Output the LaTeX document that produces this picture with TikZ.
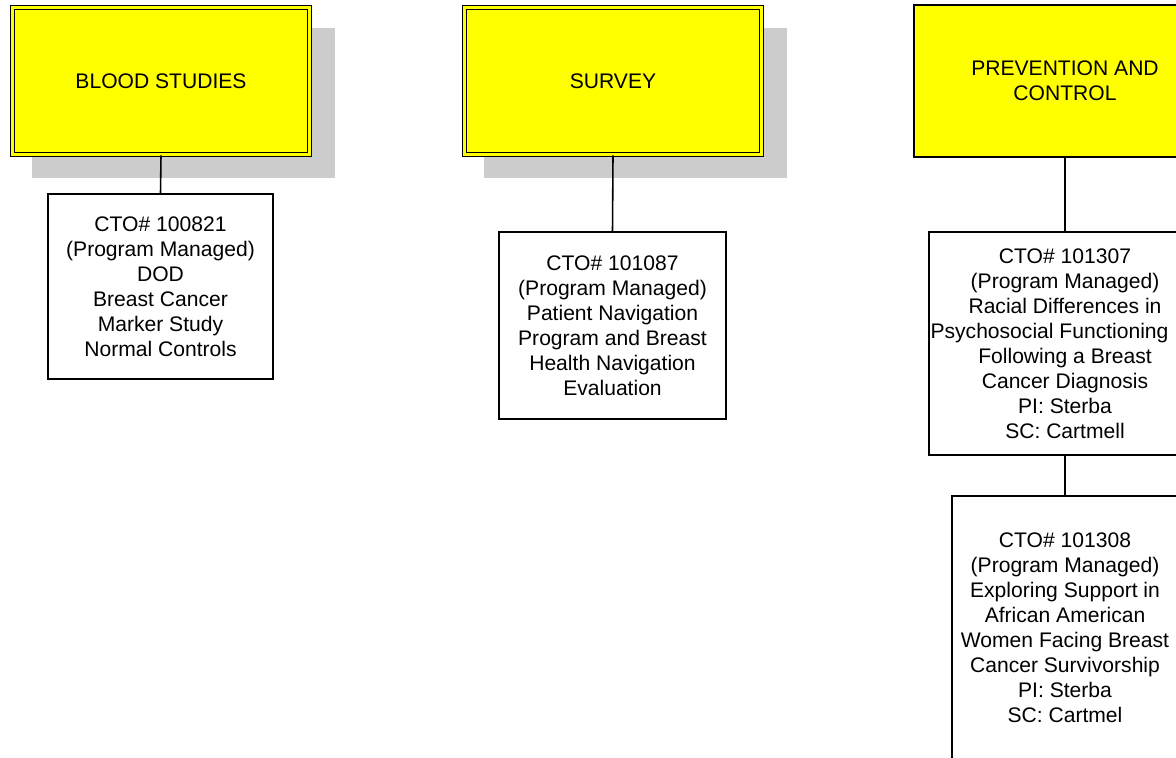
\documentclass[tikz,border=0pt]{standalone}
\usepackage{fontspec}
\setmainfont{Liberation Sans}
\usetikzlibrary{shadows}

\definecolor{ttlyellow}{RGB}{255,255,0}
\definecolor{shadowgray}{RGB}{204,204,204}

\tikzset{
	ytitle/.style = {draw = black, fill = ttlyellow, line width = .9pt, inner sep = 0,
		align = center, font = \fontsize{12}{14.4}\selectfont},
	dbl/.style = {double = ttlyellow, double distance = 1.3pt,
		drop shadow = {shadow xshift = .44cm, shadow yshift = -.44cm, shadow scale = 1.02,
			fill = shadowgray, opacity = 1}},
	ctobox/.style = {draw = black, fill = white, line width = .9pt, inner sep = 0,
		align = center, font = \fontsize{12}{14.2}\selectfont},
	link/.style = {draw = black, line width = .9pt}
}

\begin{document}
\begin{tikzpicture}[x = .02cm, y = -.02cm]
	\useasboundingbox (0, 0) rectangle (1176, 757);
	\clip (0, 0) rectangle (1176, 757);
	
	% titles
	\node [ytitle, dbl, minimum width = 5.94cm, minimum height = 2.94cm] (blood) at (161, 81) {BLOOD STUDIES};
	\node [ytitle, dbl, minimum width = 5.94cm, minimum height = 2.94cm] (survey) at (613, 81) {SURVEY};
	\node [ytitle, minimum width = 6.04cm, minimum height = 3.04cm] (prev) at (1065, 81) {PREVENTION AND\\CONTROL};
	
	% studies
	\node [ctobox, minimum width = 4.5cm, minimum height = 3.7cm] (cto821) at (160.5, 286.5)
		{CTO\# 100821\\(Program Managed)\\DOD\\Breast Cancer\\Marker Study\\Normal Controls};
	\node [ctobox, minimum width = 4.54cm, minimum height = 3.74cm] (cto087) at (612.5, 325.5)
		{CTO\# 101087\\(Program Managed)\\Patient Navigation\\Program and Breast\\Health Navigation\\Evaluation};
	\node [ctobox, minimum width = 5.44cm, minimum height = 4.46cm] (cto307) at (1065, 343.5)
		{CTO\# 101307\\(Program Managed)\\Racial Differences in\\\hspace*{-.62cm}Psychosocial Functioning\\Following a Breast\\Cancer Diagnosis\\PI: Sterba\\SC: Cartmell};
	\node [ctobox, minimum width = 4.52cm, minimum height = 5.28cm] (cto308) at (1065, 628)
		{CTO\# 101308\\(Program Managed)\\Exploring Support in\\African American\\Women Facing Breast\\Cancer Survivorship\\PI: Sterba\\SC: Cartmel};
	
	% lines
	\draw [link] (blood.south) -- (cto821.north);
	\draw [link] (survey.south) -- (cto087.north);
	\draw [link] (prev.south) -- (cto307.north);
	\draw [link] (cto307.south) -- (cto308.north);
\end{tikzpicture}
\end{document}
